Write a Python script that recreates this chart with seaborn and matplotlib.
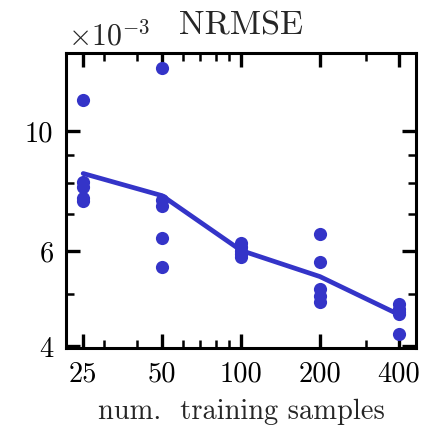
import numpy as np
import pandas as pd
import matplotlib
matplotlib.use("Agg")
import matplotlib.pyplot as plt
from matplotlib.ticker import FixedLocator, FixedFormatter, LogLocator, NullFormatter
import seaborn as sns

# ---- data ----
n_25 = [25, 25, 25, 25, 25]
n_50 = [50, 50, 50, 50, 50]
n_100 = [100, 100, 100, 100, 100]
n_200 = [200, 200, 200, 200, 200]
n_400 = [400, 400, 400, 400, 400]
nrmse_25 = [11.37e-3, 8.05e-3, 7.88e-3, 7.52e-3, 7.40e-3]
nrmse_50 = [13.03e-3, 7.45e-3, 7.27e-3, 6.34e-3, 5.60e-3]
nrmse_100 = [6.20e-3, 6.09e-3, 6.00e-3, 5.92e-3, 5.84e-3]
nrmse_200 = [6.43e-3, 5.72e-3, 5.11e-3, 4.96e-3, 4.82e-3]
nrmse_400 = [4.78e-3, 4.69e-3, 4.63e-3, 4.58e-3, 4.22e-3]

x_ticks = [25, 50, 100, 200, 400]
x_ticklabels = ["25", "50", "100", "200", "400"]
y_ticks = [4e-3, 6e-3, 10e-3]
y_ticklabels = ["4", "6", "10"]

df = pd.DataFrame({
    "n": n_25 + n_50 + n_100 + n_200 + n_400,
    "nrmse": nrmse_25 + nrmse_50 + nrmse_100 + nrmse_200 + nrmse_400,
})

sns.set_style("ticks")
plt.rcParams["font.family"] = ["cmr10", "DejaVu Serif"]
plt.rcParams["mathtext.fontset"] = "cm"
plt.rcParams["axes.formatter.use_mathtext"] = True

color = "#3434c8"

fig = plt.figure(figsize=(4.32, 4.31), dpi=100)
ax = fig.add_axes([0.1528, 0.1903, 0.963 - 0.1528, 0.8747 - 0.1903])
ax.set_xscale("log")
ax.set_yscale("log")

sns.lineplot(data=df, x="n", y="nrmse", errorbar=None, color=color, lw=3.4, ax=ax)
sns.scatterplot(data=df, x="n", y="nrmse", color=color, s=90, linewidth=0, ax=ax, zorder=3)

ax.set_xlim(21.5, 465)
ax.set_ylim(3.97e-3, 13.9e-3)

ax.xaxis.set_major_locator(FixedLocator(x_ticks))
ax.xaxis.set_major_formatter(FixedFormatter(x_ticklabels))
ax.xaxis.set_minor_locator(LogLocator(base=10, subs=np.arange(2, 10)))
ax.xaxis.set_minor_formatter(NullFormatter())
ax.yaxis.set_major_locator(FixedLocator(y_ticks))
ax.yaxis.set_major_formatter(FixedFormatter(y_ticklabels))
ax.yaxis.set_minor_locator(LogLocator(base=10, subs=np.arange(2, 10)))
ax.yaxis.set_minor_formatter(NullFormatter())

ax.tick_params(which="both", direction="in", top=True, right=True, colors="black")
ax.tick_params(which="major", length=10, width=2.4, labelsize=20.5)
ax.tick_params(axis="x", which="major", pad=9)
ax.tick_params(axis="y", which="major", pad=9)
ax.tick_params(which="minor", length=5.5, width=1.8)
for sp in ax.spines.values():
    sp.set_linewidth(2.2)
    sp.set_color("black")

ax.set_xlabel("num.  training samples", fontsize=20.5, labelpad=8)
ax.set_ylabel("")
ax.set_title("NRMSE", fontsize=24.6, pad=14)
ax.text(0.005, 1.01, r"$\times10^{-3}$", transform=ax.transAxes, ha="left", va="bottom",
        fontsize=21.5)

fig.savefig("out.png", dpi=100)
